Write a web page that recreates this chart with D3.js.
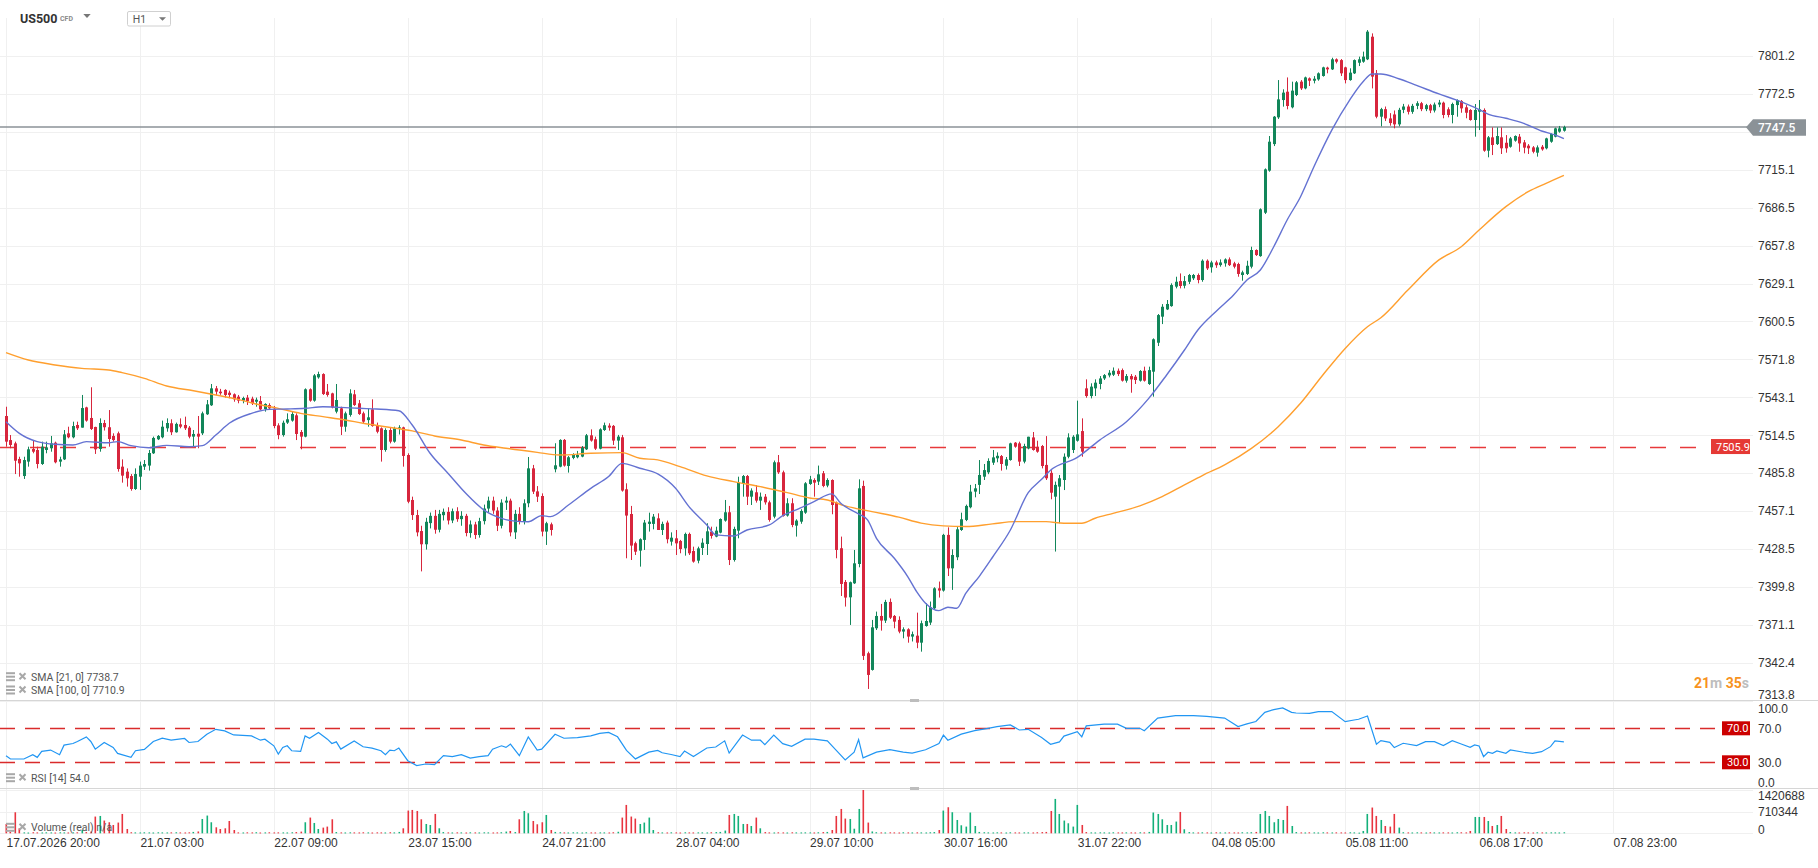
<!DOCTYPE html>
<html lang="en">
<head>
<meta charset="UTF-8" />
<title>US500 H1</title>
<style>
  body { margin: 0; background: #fff; }
  svg { display: block; font-family: Roboto, "Noto Sans", sans-serif; }
</style>
</head>
<body>
<svg id="chart" width="1818" height="868"></svg>
<script src="https://d3js.org/d3.v7.min.js"></script>
<script>
// hourly candles, [open, high, low, close]
const ohlc = [
[7529.0,7536.0,7505.8,7509.6],[7510.8,7514.6,7504.6,7507.1],[7508.3,7509.6,7485.1,7495.2],[7496.5,7498.2,7483.1,7493.2],
[7483.6,7498.2,7481.4,7495.7],[7494.5,7505.8,7490.7,7503.8],[7504.1,7510.8,7500.8,7502.0],[7503.3,7505.8,7489.4,7492.7],
[7492.7,7509.6,7492.0,7505.8],[7503.3,7509.6,7500.8,7505.3],[7504.6,7513.9,7502.0,7508.3],[7508.8,7509.6,7493.2,7494.0],
[7494.5,7498.2,7490.7,7496.2],[7496.2,7518.4,7495.7,7515.1],[7515.9,7520.9,7512.1,7512.9],[7512.9,7524.7,7512.1,7521.4],
[7522.2,7524.7,7518.4,7519.7],[7520.2,7544.9,7520.2,7535.0],[7535.5,7536.0,7524.7,7525.5],[7527.5,7550.7,7518.4,7519.2],
[7520.7,7520.9,7500.3,7503.8],[7504.1,7527.2,7502.0,7523.7],[7523.7,7526.0,7518.0,7520.5],[7520.5,7533.5,7505.8,7511.6],
[7513.9,7515.9,7509.6,7510.8],[7515.9,7517.2,7486.9,7488.9],[7490.7,7496.2,7478.6,7483.9],[7486.9,7489.4,7475.6,7481.9],
[7483.6,7485.1,7472.5,7473.8],[7473.8,7489.4,7473.1,7485.1],[7483.1,7494.5,7473.1,7491.5],[7490.7,7495.7,7488.2,7492.7],
[7491.5,7503.3,7487.7,7501.0],[7500.8,7513.4,7500.3,7512.4],[7511.4,7514.6,7510.8,7513.9],[7512.9,7525.5,7512.1,7520.9],
[7519.7,7527.2,7517.1,7523.7],[7523.5,7526.5,7514.6,7516.7],[7516.7,7524.0,7516.4,7523.0],[7522.7,7527.2,7519.7,7520.9],
[7522.2,7528.5,7518.4,7519.7],[7520.2,7521.4,7512.1,7513.4],[7513.4,7518.4,7505.8,7515.4],[7515.6,7529.0,7504.6,7513.4],
[7515.9,7532.3,7514.6,7531.0],[7530.3,7541.1,7529.8,7537.8],[7537.1,7553.2,7536.6,7549.9],[7549.9,7551.7,7544.9,7547.4],
[7547.4,7549.5,7545.0,7546.2],[7548.7,7549.2,7542.9,7544.9],[7546.6,7548.2,7542.4,7544.9],[7545.4,7546.1,7539.8,7541.6],
[7543.6,7544.9,7538.6,7540.6],[7540.6,7543.6,7538.6,7542.6],[7542.9,7544.9,7537.3,7540.1],[7542.1,7543.6,7537.3,7538.6],
[7539.8,7542.9,7536.0,7541.3],[7540.3,7544.1,7533.5,7534.0],[7534.3,7538.6,7532.3,7538.1],[7537.3,7538.6,7533.5,7534.8],
[7534.5,7536.6,7519.7,7521.4],[7521.9,7523.5,7511.4,7514.6],[7514.6,7525.5,7513.4,7523.9],[7524.0,7531.0,7523.0,7526.5],
[7525.5,7532.3,7524.7,7530.5],[7529.5,7531.0,7510.8,7515.4],[7516.9,7518.4,7503.8,7513.4],[7513.4,7549.9,7512.9,7549.2],
[7549.2,7549.9,7539.8,7540.6],[7540.6,7560.7,7539.8,7559.7],[7558.2,7562.5,7557.2,7560.7],[7560.7,7561.3,7544.9,7545.6],
[7547.4,7553.2,7543.6,7544.9],[7546.1,7546.6,7534.8,7535.5],[7532.3,7553.2,7531.0,7541.1],[7534.8,7536.0,7514.6,7520.9],
[7520.9,7532.3,7517.1,7531.0],[7529.8,7549.2,7528.5,7546.1],[7545.4,7548.7,7536.6,7537.3],[7538.6,7541.1,7529.8,7530.5],
[7531.0,7532.3,7523.5,7524.7],[7525.9,7534.8,7520.9,7528.0],[7534.0,7541.6,7520.9,7521.4],[7522.2,7524.0,7515.9,7517.1],
[7519.7,7520.4,7494.5,7503.3],[7503.3,7519.7,7502.0,7518.4],[7518.4,7520.4,7508.3,7509.6],[7509.6,7520.9,7508.8,7519.7],
[7519.7,7522.0,7515.0,7520.4],[7520.4,7520.9,7490.7,7498.8],[7499.5,7500.8,7463.0,7464.2],[7465.5,7468.0,7450.4,7454.1],
[7454.1,7458.0,7438.0,7441.0],[7442.0,7446.0,7411.5,7432.0],[7432.0,7452.0,7428.0,7449.0],[7448.0,7456.0,7444.0,7453.5],
[7453.5,7458.0,7440.0,7443.0],[7443.0,7458.0,7441.0,7455.0],[7454.0,7459.0,7450.0,7456.5],[7456.5,7460.0,7447.0,7450.0],
[7450.0,7459.0,7448.0,7457.0],[7457.0,7460.0,7449.0,7451.0],[7451.0,7457.0,7446.0,7453.5],[7453.5,7455.0,7438.0,7440.5],
[7440.5,7450.0,7437.0,7447.0],[7447.0,7449.0,7436.0,7439.0],[7439.0,7452.0,7437.0,7449.5],[7449.5,7462.0,7447.0,7459.0],
[7459.0,7468.0,7456.0,7465.0],[7465.0,7468.0,7455.0,7457.5],[7457.5,7460.0,7442.0,7446.0],[7446.0,7466.0,7444.0,7463.5],
[7463.5,7468.0,7458.0,7465.0],[7465.0,7466.5,7438.0,7441.0],[7441.0,7458.0,7436.0,7455.0],[7455.0,7460.0,7447.0,7449.5],
[7449.5,7466.0,7447.0,7463.0],[7463.0,7498.0,7460.0,7489.4],[7489.4,7492.0,7470.0,7471.8],[7472.0,7476.0,7464.0,7468.0],
[7468.5,7470.5,7438.0,7441.6],[7441.6,7449.0,7431.5,7447.9],[7447.1,7448.4,7438.6,7442.8],[7488.7,7508.4,7486.4,7491.7],
[7490.7,7511.4,7490.2,7510.9],[7510.9,7511.6,7490.7,7491.5],[7491.2,7498.8,7486.2,7497.8],[7497.3,7500.8,7496.3,7499.5],
[7497.8,7502.6,7497.0,7499.5],[7498.3,7506.3,7497.8,7505.1],[7503.8,7515.4,7503.3,7514.4],[7514.4,7518.9,7509.6,7510.4],
[7511.4,7513.4,7503.3,7504.3],[7504.3,7519.7,7503.8,7518.9],[7518.4,7524.0,7517.7,7522.0],[7521.7,7523.5,7517.9,7520.2],
[7521.5,7522.2,7507.1,7510.4],[7510.4,7514.7,7503.3,7513.4],[7512.9,7514.7,7471.8,7472.6],[7473.6,7478.1,7421.4,7453.7],
[7454.9,7461.0,7420.1,7431.0],[7432.8,7434.0,7423.9,7426.4],[7427.2,7436.5,7415.1,7435.8],[7435.3,7450.4,7427.7,7448.4],
[7447.4,7455.9,7441.6,7449.1],[7447.4,7454.9,7443.3,7452.9],[7451.6,7455.4,7442.8,7442.8],[7442.8,7449.1,7439.0,7447.4],
[7448.4,7449.9,7432.7,7435.8],[7434.0,7441.0,7431.0,7437.0],[7436.5,7442.8,7423.9,7432.7],[7434.5,7435.3,7425.2,7428.4],
[7428.9,7440.8,7423.4,7439.8],[7439.8,7440.8,7423.9,7425.2],[7426.9,7430.2,7418.1,7418.9],[7419.6,7430.2,7417.6,7428.9],
[7429.2,7436.5,7423.9,7433.2],[7432.2,7447.9,7423.9,7441.8],[7441.6,7445.3,7436.3,7438.3],[7437.8,7445.3,7437.3,7442.3],
[7440.8,7451.6,7440.3,7451.1],[7449.9,7465.5,7449.1,7456.2],[7456.2,7461.0,7416.3,7420.1],[7420.1,7445.3,7418.9,7443.6],
[7442.3,7483.1,7436.5,7478.6],[7477.9,7484.4,7468.0,7483.6],[7483.6,7484.4,7461.7,7468.0],[7468.0,7474.3,7461.7,7472.6],
[7471.3,7476.8,7463.5,7465.0],[7465.0,7471.1,7458.0,7468.0],[7468.0,7470.0,7462.0,7463.7],[7463.7,7465.0,7449.1,7450.4],
[7452.9,7495.3,7451.6,7494.0],[7494.0,7499.5,7485.2,7486.4],[7486.4,7487.7,7452.9,7453.4],[7453.7,7466.8,7452.9,7463.0],
[7463.0,7466.8,7444.9,7446.6],[7446.1,7450.9,7437.8,7449.9],[7449.1,7458.5,7447.5,7457.2],[7455.9,7479.0,7455.0,7478.1],
[7477.6,7483.7,7476.9,7481.1],[7480.6,7481.9,7468.0,7478.6],[7479.4,7491.5,7476.8,7484.9],[7485.7,7487.4,7475.1,7476.1],
[7476.4,7481.9,7475.1,7480.6],[7480.6,7481.1,7454.7,7461.7],[7463.5,7464.3,7421.4,7427.7],[7429.0,7437.8,7392.9,7402.0],
[7403.5,7405.0,7384.9,7391.7],[7391.9,7403.8,7371.0,7403.3],[7402.5,7427.7,7402.0,7417.6],[7417.1,7481.1,7414.6,7474.3],
[7476.1,7480.1,7344.5,7347.6],[7349.6,7350.8,7322.6,7333.2],[7337.0,7374.8,7336.5,7369.2],[7368.5,7381.1,7367.2,7377.8],
[7377.8,7386.9,7366.7,7374.3],[7374.3,7390.0,7372.5,7388.4],[7388.4,7391.0,7375.5,7376.5],[7377.8,7378.5,7368.5,7373.5],
[7374.8,7377.5,7364.7,7366.0],[7366.0,7369.2,7360.9,7367.7],[7367.7,7368.5,7357.6,7362.2],[7362.2,7366.0,7358.5,7364.0],
[7362.9,7380.3,7353.4,7357.6],[7357.6,7374.3,7350.8,7372.3],[7370.2,7387.4,7369.7,7374.0],[7372.8,7388.7,7371.0,7384.4],
[7383.6,7399.5,7383.0,7398.7],[7398.7,7403.8,7391.7,7397.0],[7397.0,7439.9,7396.2,7439.1],[7439.1,7444.8,7408.0,7413.8],
[7413.8,7428.2,7397.5,7423.9],[7422.2,7445.0,7420.0,7443.3],[7442.8,7455.9,7442.1,7450.9],[7450.4,7462.0,7449.5,7461.0],
[7460.0,7476.9,7459.2,7471.8],[7471.8,7477.6,7467.5,7474.3],[7476.9,7495.7,7470.0,7484.4],[7483.1,7492.7,7480.6,7488.1],
[7486.4,7497.0,7485.0,7495.0],[7493.7,7503.3,7492.0,7497.7],[7497.0,7501.5,7494.0,7498.9],[7498.7,7499.5,7487.7,7492.7],
[7491.4,7498.0,7488.5,7496.2],[7495.7,7508.8,7495.2,7508.3],[7508.8,7509.3,7505.0,7505.8],[7508.3,7509.6,7491.2,7494.5],
[7494.5,7508.0,7493.2,7506.3],[7504.5,7513.3,7503.8,7513.3],[7512.8,7516.9,7502.8,7503.3],[7505.8,7510.3,7501.2,7502.0],
[7506.3,7507.1,7489.4,7491.2],[7492.0,7513.8,7480.6,7481.9],[7486.0,7488.0,7466.0,7471.0],[7468.0,7479.4,7426.5,7476.9],
[7475.6,7484.4,7447.9,7481.9],[7480.6,7500.7,7473.0,7498.2],[7498.2,7515.9,7497.0,7512.8],[7503.3,7514.5,7501.0,7513.3],
[7510.3,7540.6,7509.6,7515.1],[7517.6,7527.2,7498.2,7502.0],[7549.9,7556.7,7542.8,7544.1],[7544.1,7553.7,7542.3,7551.2],
[7549.9,7556.7,7544.1,7554.2],[7553.2,7559.2,7549.2,7557.4],[7557.4,7560.7,7556.2,7559.9],[7559.7,7563.7,7558.2,7561.7],
[7560.2,7565.7,7559.2,7563.2],[7563.2,7564.9,7559.2,7560.7],[7563.7,7564.9,7555.0,7555.7],[7555.7,7560.7,7554.2,7559.2],
[7559.2,7560.7,7546.6,7556.7],[7558.7,7560.0,7553.2,7556.2],[7555.7,7563.7,7555.0,7563.0],[7563.2,7566.3,7555.0,7555.7],
[7553.2,7566.3,7552.5,7563.7],[7562.5,7587.7,7543.6,7587.0],[7584.4,7606.1,7581.9,7605.3],[7604.1,7613.6,7598.5,7611.6],
[7609.6,7616.7,7609.1,7613.7],[7612.1,7629.3,7611.6,7628.0],[7626.8,7634.3,7625.5,7630.5],[7631.0,7636.8,7625.5,7627.3],
[7627.5,7634.8,7625.5,7631.0],[7630.5,7636.4,7628.8,7635.6],[7633.1,7636.4,7631.8,7635.6],[7635.6,7636.8,7629.3,7631.8],
[7631.8,7647.4,7630.5,7646.4],[7646.4,7647.4,7639.4,7640.6],[7641.4,7646.4,7637.4,7645.1],[7645.1,7646.5,7641.0,7643.0],
[7643.1,7647.4,7641.9,7645.1],[7644.4,7648.2,7641.9,7647.4],[7647.4,7648.9,7642.4,7643.1],[7644.4,7645.6,7640.6,7641.9],
[7643.9,7644.9,7634.3,7636.4],[7635.6,7638.9,7631.3,7637.6],[7636.4,7646.4,7635.6,7642.6],[7641.9,7657.0,7640.6,7654.5],
[7654.5,7655.0,7650.0,7650.7],[7649.9,7686.0,7649.4,7685.3],[7682.7,7716.2,7681.7,7715.5],[7714.5,7740.7,7713.7,7736.4],
[7734.6,7755.8,7733.1,7755.3],[7754.8,7783.0,7753.6,7768.4],[7767.9,7776.0,7762.9,7773.5],[7774.2,7785.0,7760.9,7763.4],
[7762.4,7781.8,7761.6,7775.0],[7771.7,7782.3,7770.9,7781.3],[7781.8,7783.0,7775.5,7776.7],[7776.7,7785.6,7776.0,7785.0],
[7784.3,7785.0,7778.5,7782.5],[7782.5,7786.0,7780.5,7784.0],[7783.5,7788.8,7782.5,7788.1],[7786.1,7793.1,7785.6,7792.6],
[7792.4,7793.1,7788.1,7791.1],[7791.1,7799.9,7790.6,7798.7],[7798.7,7799.4,7795.6,7796.9],[7798.1,7798.9,7786.1,7788.1],
[7792.6,7793.1,7780.5,7783.0],[7783.0,7791.9,7782.5,7788.6],[7788.1,7798.6,7787.6,7798.1],[7796.1,7800.7,7793.6,7798.7],
[7796.9,7804.5,7796.1,7800.7],[7798.7,7820.8,7798.1,7819.6],[7815.8,7818.3,7776.7,7785.6],[7788.1,7790.6,7754.1,7755.3],
[7755.3,7762.0,7748.0,7761.0],[7761.0,7763.0,7752.0,7754.0],[7754.0,7758.0,7748.5,7750.5],[7757.0,7760.0,7746.5,7749.5],
[7749.5,7762.0,7748.0,7760.5],[7760.5,7765.0,7758.0,7763.0],[7763.0,7764.5,7757.0,7759.0],[7759.0,7765.0,7757.5,7763.5],
[7763.5,7767.0,7761.0,7765.5],[7765.5,7766.5,7759.5,7761.0],[7761.0,7765.0,7759.5,7764.0],[7764.0,7765.0,7758.0,7760.0],
[7760.0,7766.0,7758.5,7764.5],[7764.5,7768.0,7762.5,7766.0],[7765.9,7766.7,7754.1,7756.6],[7760.9,7762.4,7754.8,7756.6],
[7756.6,7765.9,7750.3,7764.9],[7764.1,7768.4,7755.3,7767.9],[7767.2,7767.9,7758.3,7761.6],[7762.4,7764.1,7754.1,7758.3],
[7760.4,7761.0,7752.3,7752.8],[7752.8,7764.9,7740.2,7760.4],[7759.1,7767.9,7745.2,7760.9],[7760.4,7761.6,7728.8,7729.6],
[7729.6,7740.7,7724.6,7739.7],[7739.7,7747.2,7726.3,7733.9],[7734.6,7747.2,7733.9,7740.7],[7739.7,7747.2,7727.1,7731.4],
[7735.6,7741.4,7728.1,7731.4],[7732.6,7740.0,7731.9,7738.9],[7737.2,7741.2,7736.4,7740.7],[7740.2,7742.2,7728.8,7735.1],
[7735.9,7737.7,7727.6,7731.9],[7733.4,7734.6,7727.1,7731.4],[7732.1,7733.1,7727.6,7728.8],[7728.1,7733.6,7725.1,7732.1],
[7732.6,7733.9,7729.6,7730.6],[7731.4,7739.4,7730.6,7738.9],[7736.4,7742.7,7735.6,7742.2],[7740.2,7747.0,7739.7,7746.5],
[7744.0,7748.3,7743.2,7746.5],[7744.7,7748.5,7744.0,7747.5]
];

// volume per candle, thousands
const volumeK = [
306,45,690,164,
30,25,35,30,28,32,30,26,34,30,28,31,33,
110,40,60,549,569,418,362,273,352,635,141,
35,30,28,32,30,27,33,30,29,31,34,30,28,32,45,60,
470,582,362,197,141,164,404,108,
30,28,32,30,35,27,30,33,29,31,30,28,34,40,55,
362,516,339,141,187,220,460,
40,30,28,32,30,29,33,30,27,31,30,28,35,30,45,
164,746,766,733,460,306,273,635,164,
40,30,28,31,30,27,33,30,29,32,30,28,30,35,
56,76,40,
460,733,658,404,296,362,602,108,
45,35,30,28,32,30,27,33,30,29,31,30,28,34,50,
516,931,549,483,306,352,516,108,
35,30,28,32,30,27,33,30,29,31,30,28,34,40,45,
89,
602,635,569,306,306,240,516,164,
40,30,28,32,30,27,33,30,29,31,30,28,34,40,45,
108,569,799,483,470,150,799,1420.688,352,
60,35,30,28,32,30,27,33,30,29,31,30,28,34,40,
108,746,855,691,437,263,220,681,240,
45,35,30,28,32,30,27,33,30,29,31,30,28,34,40,
45,733,1128,635,418,329,220,931,273,
40,30,28,32,30,27,33,30,29,31,30,28,34,30,45,
681,635,460,273,273,385,700,132,
40,30,28,32,30,27,33,30,29,31,30,28,34,30,35,45,
635,733,569,362,470,437,898,240,
40,30,28,32,30,27,33,30,29,31,30,28,34,30,22,
76,635,845,569,437,240,220,635,187,
35,30,28,32,30,27,33,30,29,31,30,28,34,33,30,
76,536,536,536,404,240,273,569,141,
40,30,28,32,30,27,33,30,29,31,30,28,34
];

// SMA 21, [candle index, value]
const sma21 = [
[0,7524.7],[3,7515.9],[7,7509.6],[11,7507.6],[15,7507.1],[18,7509.6],[23,7508.8],[25,7509.6],[28,7506.6],
[32,7505.0],[36,7506.8],[41,7505.8],[44,7506.6],[47,7514.6],[50,7523.5],[55,7531.0],[59,7534.0],[63,7534.3],
[67,7534.8],[71,7536.0],[75,7535.5],[79,7534.8],[83,7534.3],[88,7533.0],[91,7522.2],[95,7500.8],[99,7485.7],
[103,7470.5],[107,7458.0],[111,7451.6],[114,7449.5],[117,7449.0],[120,7453.7],[122,7452.9],[126,7461.7],
[131,7474.3],[135,7483.2],[138,7493.2],[142,7489.5],[146,7485.2],[150,7474.3],[153,7460.5],[157,7446.6],
[159,7439.1],[163,7438.3],[166,7442.8],[171,7446.6],[174,7453.7],[177,7458.0],[181,7464.3],[185,7470.1],
[187,7463.0],[191,7454.9],[193,7450.4],[195,7436.5],[199,7421.4],[202,7407.6],[204,7396.2],[206,7387.4],
[209,7381.8],[211,7384.4],[213,7383.6],[215,7394.9],[218,7407.6],[221,7422.2],[225,7442.8],[229,7471.0],
[232,7481.1],[234,7488.0],[240,7497.7],[245,7510.8],[251,7524.7],[256,7542.3],[260,7560.0],[264,7578.9],
[267,7594.0],[271,7607.9],[275,7620.5],[278,7631.8],[281,7639.4],[284,7657.0],[287,7677.2],[290,7694.8],
[293,7717.5],[297,7745.2],[301,7767.9],[304,7781.8],[306,7787.6],[308,7787.6],[312,7784.0],[316,7779.0],
[321,7772.5],[325,7767.9],[329,7762.4],[332,7757.3],[336,7754.1],[340,7750.3],[344,7744.5],[347,7741.5],[349,7738.7]
];

// SMA 100, [candle index, value]
const sma100 = [
[0,7576.9],[5,7571.3],[11,7567.6],[17,7565.0],[23,7563.8],[26,7561.8],[31,7557.5],[36,7551.7],[42,7548.1],
[47,7544.9],[52,7541.6],[56,7538.1],[61,7534.8],[66,7531.0],[71,7528.5],[76,7526.0],[80,7523.5],[85,7520.9],
[91,7517.7],[96,7513.9],[102,7510.8],[107,7507.1],[112,7504.6],[119,7501.5],[124,7499.5],[131,7500.8],
[138,7501.3],[142,7497.0],[146,7495.8],[151,7490.7],[157,7483.7],[163,7479.4],[169,7475.6],[175,7471.1],
[180,7467.0],[184,7465.5],[188,7461.0],[194,7456.7],[200,7452.5],[205,7448.0],[210,7445.9],[215,7445.4],
[221,7447.4],[226,7449.1],[233,7449.1],[237,7447.9],[241,7447.9],[244,7451.7],[248,7455.4],[254,7461.0],
[259,7468.0],[264,7476.9],[268,7484.0],[273,7492.0],[279,7504.5],[285,7520.9],[290,7538.6],[295,7560.0],
[300,7580.1],[305,7596.5],[308,7603.3],[314,7624.0],[321,7647.0],[326,7657.0],[330,7669.6],[336,7687.3],
[341,7698.6],[345,7704.9],[349,7710.9]
];

// RSI 14, [candle index, value]
const rsi = [
[0,37.8],[1,33.9],[4,33.9],[6,38.9],[7,35.8],[8,42.8],[10,44.4],[12,38.9],[13,50.2],[15,52.1],[16,54.5],
[18,59.9],[19,54.5],[20,45.5],[22,53.3],[24,47.5],[25,40.5],[28,35.8],[29,43.6],[31,45.1],[33,54.5],[35,58.3],
[37,56.0],[40,58.0],[41,53.3],[43,54.5],[45,63.0],[47,68.8],[49,66.9],[51,62.2],[55,61.1],[57,56.0],[58,57.2],
[60,49.4],[61,39.7],[62,47.5],[63,49.4],[64,43.6],[66,42.8],[67,61.1],[68,58.3],[70,65.0],[72,57.2],[73,52.1],
[74,54.1],[75,45.5],[78,55.2],[80,48.3],[82,46.7],[84,43.6],[85,38.9],[86,44.4],[87,43.6],[88,46.7],[90,31.9],
[92,26.1],[94,28.0],[96,27.3],[98,37.8],[100,36.6],[102,38.9],[104,35.0],[106,36.6],[108,37.8],[109,45.5],
[111,49.4],[112,47.5],[113,51.4],[115,37.8],[117,59.9],[119,44.4],[120,45.5],[123,63.0],[125,58.3],[128,59.1],
[131,61.1],[133,64.0],[135,65.2],[137,60.0],[139,44.0],[141,34.0],[144,42.0],[146,44.0],[147,41.2],[149,39.2],
[151,36.8],[152,43.2],[154,36.8],[157,46.8],[159,48.0],[161,55.2],[162,40.8],[165,62.0],[167,56.0],[169,56.0],
[170,50.8],[172,62.0],[174,52.0],[176,48.8],[179,57.2],[181,57.2],[184,55.2],[186,44.0],[188,32.8],[190,42.0],
[191,56.8],[192,35.2],[195,42.0],[198,44.8],[201,42.0],[203,40.8],[206,44.8],[209,52.0],[210,62.0],[211,56.0],
[214,63.2],[217,67.2],[220,70.0],[222,72.0],[225,74.0],[227,68.0],[229,68.8],[232,59.2],[234,51.2],[236,54.0],
[237,60.8],[240,66.0],[241,60.0],[242,72.8],[246,74.8],[249,74.8],[251,70.0],[254,70.0],[255,67.2],[258,82.0],
[262,84.8],[266,84.8],[269,84.0],[273,82.0],[276,72.0],[278,75.2],[280,78.0],[282,88.8],[284,92.0],[286,94.0],
[288,88.8],[289,88.0],[292,87.6],[294,89.6],[297,89.6],[300,77.8],[302,79.8],[303,80.6],[305,84.5],[307,51.2],
[308,55.5],[310,53.5],[311,47.3],[313,52.4],[316,49.6],[318,54.3],[320,54.3],[322,49.6],[324,55.5],[326,51.6],
[328,47.6],[329,50.4],[330,49.2],[331,36.7],[332,41.8],[333,40.6],[334,43.3],[336,40.6],[337,44.5],[340,41.8],
[342,40.6],[344,42.5],[346,48.4],[347,55.1],[349,54.0]
];

const priceTicks = [7801.2,7772.5,7743.8,7715.1,7686.5,7657.8,7629.1,7600.5,7571.8,7543.1,7514.5,7485.8,7457.1,7428.5,7399.8,7371.1,7342.4,7313.8];
const rsiTicks = [100,70,30,0];
const volTicksK = [1420.688,710.344,0];
const timeLabels = ["17.07.2026 20:00","21.07 03:00","22.07 09:00","23.07 15:00","24.07 21:00","28.07 04:00","29.07 10:00","30.07 16:00","31.07 22:00","04.08 05:00","05.08 11:00","06.08 17:00","07.08 23:00"];
const lastPrice = 7747.5;
const levelPrice = 7505.9;
const rsiLevels = [70,30];

const GREEN = "#12865a", RED = "#d7263d";
const VGREEN = "#13b07a", VRED = "#e8343f";

const svg = d3.select("#chart");
svg.append("rect").attr("width", 1818).attr("height", 868).attr("fill", "#fff");

const x = d3.scaleLinear().domain([0, 360]).range([6, 1613]);
const y = d3.scaleLinear().domain([7313.8, 7801.2]).range([700.6, 56]);
const yRsi = d3.scaleLinear().domain([0, 100]).range([787.8, 702.8]);
const yVol = d3.scaleLinear().domain([0, 1420.688]).range([833.3, 790]);
const crisp = v => Math.round(v) + 0.5;

svg.append("defs").append("clipPath").attr("id", "mainClip")
  .append("rect").attr("x", 0).attr("y", 0).attr("width", 1818).attr("height", 700);

// grid
const grid = svg.append("g").attr("stroke", "#f0f0f0").attr("stroke-width", 1);
grid.selectAll("line.h").data(priceTicks).join("line").attr("class", "h")
  .attr("x1", 0).attr("x2", 1753).attr("y1", d => crisp(y(d))).attr("y2", d => crisp(y(d)));
grid.selectAll("line.v").data(timeLabels).join("line").attr("class", "v")
  .attr("x1", (d, i) => crisp(x(i * 30))).attr("x2", (d, i) => crisp(x(i * 30)))
  .attr("y1", 18).attr("y2", 834);
grid.selectAll("line.vol").data(volTicksK).join("line").attr("class", "vol")
  .attr("x1", 0).attr("x2", 1753).attr("y1", d => crisp(yVol(d))).attr("y2", d => crisp(yVol(d)));

// panel separators
svg.selectAll("line.sep").data([700, 788]).join("line").attr("class", "sep")
  .attr("x1", 0).attr("x2", 1818).attr("y1", d => d + 0.5).attr("y2", d => d + 0.5)
  .attr("stroke", "#d6d6d6");
svg.selectAll("rect.handle").data([700, 788]).join("rect").attr("class", "handle")
  .attr("x", 910).attr("y", d => d - 1).attr("width", 9).attr("height", 3).attr("fill", "#bdbdbd");

const main = svg.append("g").attr("clip-path", "url(#mainClip)");

// horizontal level + last price line
main.append("line").attr("x1", 0).attr("x2", 1700)
  .attr("y1", crisp(y(levelPrice))).attr("y2", crisp(y(levelPrice)))
  .attr("stroke", "#e8393b").attr("stroke-width", 1.5).attr("stroke-dasharray", "16,14");
main.append("line").attr("x1", 0).attr("x2", 1748)
  .attr("y1", y(lastPrice)).attr("y2", y(lastPrice))
  .attr("stroke", "#8b9297").attr("stroke-width", 1.5);

// candles
const candles = main.append("g").selectAll("g").data(ohlc).join("g")
  .attr("fill", d => d[3] >= d[0] ? GREEN : RED)
  .attr("stroke", d => d[3] >= d[0] ? GREEN : RED);
candles.append("line")
  .attr("x1", (d, i) => crisp(x(i))).attr("x2", (d, i) => crisp(x(i)))
  .attr("y1", d => y(d[1])).attr("y2", d => y(d[2])).attr("stroke-width", 1);
candles.append("rect")
  .attr("x", (d, i) => Math.round(x(i)) - 1)
  .attr("width", 3)
  .attr("y", d => y(Math.max(d[0], d[3])))
  .attr("height", d => Math.max(1, Math.abs(y(d[0]) - y(d[3]))))
  .attr("stroke", "none");

// moving averages
const maLine = d3.line().x(d => x(d[0])).y(d => y(d[1])).curve(d3.curveMonotoneX);
main.append("path").datum(sma100).attr("d", maLine)
  .attr("fill", "none").attr("stroke", "#ff9f2e").attr("stroke-width", 1.4);
main.append("path").datum(sma21).attr("d", maLine)
  .attr("fill", "none").attr("stroke", "#6472d2").attr("stroke-width", 1.4);

// price axis
const axisText = g => g.call(s => s.select(".domain").remove())
  .selectAll("text").attr("fill", "#333").attr("font-size", 12);
const priceAxis = svg.append("g").attr("transform", "translate(1752,0)")
  .call(d3.axisRight(y).tickValues(priceTicks).tickSize(0).tickPadding(6).tickFormat(d3.format(".1f")))
  .call(axisText);
priceAxis.selectAll(".tick").filter(d => d === 7743.8).remove();
priceAxis.selectAll(".tick").filter(d => d === 7313.8).attr("transform", "translate(0,695)");

// last price tag
svg.append("path")
  .attr("d", "M1746,127.3 L1753,119.3 L1806,119.3 L1806,135.7 L1753,135.7 Z")
  .attr("fill", "#8b9297");
svg.append("text").attr("x", 1758).attr("y", 131.6).attr("fill", "#fff")
  .attr("font-size", 12).attr("font-weight", 500).text(d3.format(".1f")(lastPrice));

// level tag
svg.append("rect").attr("x", 1711).attr("y", y(levelPrice) - 7.5).attr("width", 39).attr("height", 15).attr("fill", "#e53935");
svg.append("text").attr("x", 1716).attr("y", y(levelPrice) + 4).attr("fill", "#fff")
  .attr("font-size", 11).text(d3.format(".1f")(levelPrice));

// countdown
const timer = svg.append("text").attr("x", 1749).attr("y", 687.5).attr("text-anchor", "end")
  .attr("font-size", 14).attr("font-weight", 700);
[["21", "#f7931e"], ["m ", "#bdbdbd"], ["35", "#f7931e"], ["s", "#bdbdbd"]]
  .forEach(p => timer.append("tspan").attr("fill", p[1]).text(p[0]));

// legends
function legend(yc, label) {
  const g = svg.append("g").attr("transform", `translate(0,${yc})`);
  [-3.5, 0, 3.5].forEach(o => g.append("rect").attr("x", 6).attr("y", o - 1).attr("width", 9).attr("height", 2).attr("fill", "#a8a8a8"));
  g.append("path").attr("d", "M19.5,-3.5 L25.5,2.5 M25.5,-3.5 L19.5,2.5").attr("stroke", "#a8a8a8").attr("stroke-width", 2);
  g.append("text").attr("x", 31).attr("y", 3.8).attr("font-size", 10.5).attr("fill", "#555").text(label);
}
legend(676.7, "SMA [21, 0] " + d3.format(".1f")(sma21[sma21.length - 1][1]));
legend(690, "SMA [100, 0] " + d3.format(".1f")(sma100[sma100.length - 1][1]));
legend(777.7, "RSI [14] " + d3.format(".1f")(rsi[rsi.length - 1][1]));

// RSI panel
svg.selectAll("line.rsiLevel").data(rsiLevels).join("line").attr("class", "rsiLevel")
  .attr("x1", 0).attr("x2", 1717).attr("y1", d => crisp(yRsi(d))).attr("y2", d => crisp(yRsi(d)))
  .attr("stroke", "#d92b2b").attr("stroke-width", 1.3).attr("stroke-dasharray", "15,10");
svg.append("path").datum(rsi)
  .attr("d", d3.line().x(d => x(d[0])).y(d => yRsi(d[1])))
  .attr("fill", "none").attr("stroke", "#2196f3").attr("stroke-width", 1.2);
svg.selectAll("rect.rsiTag").data(rsiLevels).join("rect").attr("class", "rsiTag")
  .attr("x", 1722).attr("y", d => yRsi(d) - 7).attr("width", 28).attr("height", 14).attr("fill", "#cc0000");
svg.selectAll("text.rsiTag").data(rsiLevels).join("text").attr("class", "rsiTag")
  .attr("x", 1727).attr("y", d => yRsi(d) + 4).attr("fill", "#fff").attr("font-size", 11)
  .text(d => d3.format(".1f")(d));
const rsiAxis = svg.append("g").attr("transform", "translate(1752,0)")
  .call(d3.axisRight(yRsi).tickValues(rsiTicks).tickSize(0).tickPadding(6).tickFormat(d3.format(".1f")))
  .call(axisText);
rsiAxis.selectAll(".tick").filter(d => d === 100).attr("transform", "translate(0,709)");
rsiAxis.selectAll(".tick").filter(d => d === 0).attr("transform", "translate(0,783)");

// volume panel
svg.append("g").selectAll("rect").data(volumeK).join("rect")
  .attr("x", (d, i) => Math.round(x(i)) - 0.5)
  .attr("width", 1.6)
  .attr("y", d => yVol(d))
  .attr("height", d => Math.max(1, yVol(0) - yVol(d)))
  .attr("fill", (d, i) => ohlc[i][3] >= ohlc[i][0] ? VGREEN : VRED);
legend(827.3, "Volume (real) n/a");
const volAxis = svg.append("g").attr("transform", "translate(1752,0)")
  .call(d3.axisRight(yVol).tickValues(volTicksK).tickSize(0).tickPadding(6).tickFormat(d => Math.round(d * 1000)))
  .call(axisText);
volAxis.selectAll(".tick").filter(d => d === 1420.688).attr("transform", "translate(0,795.7)");
volAxis.selectAll(".tick").filter(d => d === 0).attr("transform", "translate(0,830)");

// time axis
const timeAxis = svg.append("g").attr("transform", "translate(0,835)")
  .call(d3.axisBottom(x).tickValues(timeLabels.map((d, i) => i * 30)).tickSize(0).tickPadding(3)
    .tickFormat((d, i) => timeLabels[i]))
  .call(axisText);
timeAxis.selectAll("text").attr("text-anchor", "start");

// header
const head = svg.append("g");
head.append("rect").attr("x", 0).attr("y", 0).attr("width", 300).attr("height", 10).attr("fill", "#fff");
head.append("text").attr("x", 20).attr("y", 22.7).attr("font-size", 12.5).attr("font-weight", 700)
  .attr("fill", "#333").text("US500");
head.append("text").attr("x", 60).attr("y", 21.3).attr("font-size", 7).attr("font-weight", 700)
  .attr("fill", "#8a8a8a").text("CFD");
head.append("path").attr("d", "M83.3,14 L90.7,14 L87,18 Z").attr("fill", "#777");
head.append("rect").attr("x", 127.5).attr("y", 11.5).attr("width", 43).attr("height", 14.5).attr("rx", 1.5)
  .attr("fill", "#fff").attr("stroke", "#d0d0d0");
head.append("text").attr("x", 132.7).attr("y", 23.3).attr("font-size", 10.5).attr("fill", "#555").text("H1");
head.append("path").attr("d", "M159,17.3 L166,17.3 L162.5,20.8 Z").attr("fill", "#777");
</script>
</body>
</html>
